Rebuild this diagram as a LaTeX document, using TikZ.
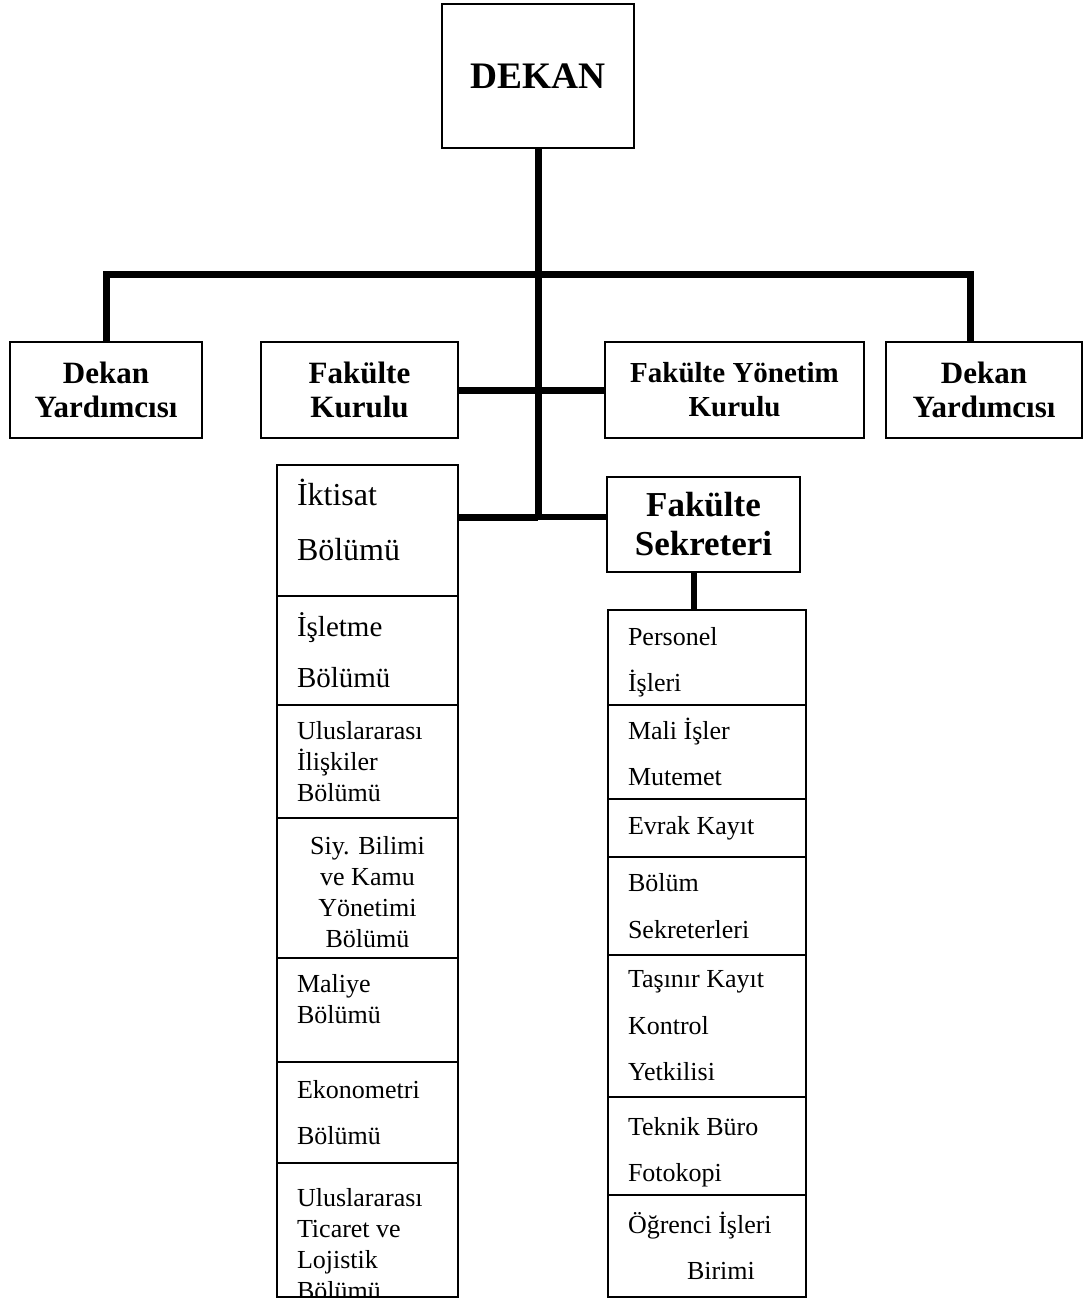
\documentclass[tikz,border=0pt]{standalone}
\usepackage{fontspec}
\setmainfont{Liberation Serif}
\usepackage{tikz}

\newcommand{\cellspaced}{\fontsize{13}{23.2}\selectfont}
\newcommand{\cellpacked}{\fontsize{13}{15.5}\selectfont}

\begin{document}
\begin{tikzpicture}[x=0.5pt,y=-0.5pt,
  box/.style={draw,rectangle,line width=1.1pt,align=center,inner sep=0pt},
  cell/.style={draw,rectangle,line width=1.1pt,align=flush left,inner xsep=10pt,inner ysep=0pt,font=\cellspaced},
  lcell/.style={cell,text width=70.5pt},
  rcell/.style={cell,text width=79pt},
  link/.style={line width=3.5pt}]
\useasboundingbox (0,0) rectangle (1087,1299);

% top level
\node[box,minimum width=96pt,minimum height=72pt,font=\fontsize{18.7}{22}\selectfont\bfseries](dekan) at (538,76)
	{DEKAN};
\node[box,minimum width=96pt,minimum height=48pt,font=\fontsize{15.5}{17}\selectfont\bfseries](dy1) at (106,390)
	{Dekan \\ Yardımcısı};
\node[box,minimum width=98.5pt,minimum height=48pt,font=\fontsize{15.5}{17}\selectfont\bfseries](fk) at (359.5,390)
	{Fakülte \\ Kurulu};
\node[box,minimum width=129.5pt,minimum height=48pt,font=\fontsize{14.5}{17}\selectfont\bfseries](fyk) at (734.5,390)
	{Fakülte Yönetim \\ Kurulu};
\node[box,minimum width=98pt,minimum height=48pt,font=\fontsize{15.5}{17}\selectfont\bfseries](dy2) at (984,390)
	{Dekan \\ Yardımcısı};
\node[box,minimum width=96.5pt,minimum height=47.5pt,font=\fontsize{17.5}{19.5}\selectfont\bfseries](sek) at (703.5,524.5)
	{Fakülte \\ Sekreteri};

% departments
\node[lcell,minimum height=65.5pt,text depth=38pt,font=\fontsize{16}{27.5}\selectfont](iktisat) at (367.5,530.5)
	{İktisat \\ Bölümü};
\node[lcell,minimum height=54.5pt,font=\fontsize{14.5}{25.5}\selectfont](isletme) at (367.5,650.5)
	{İşletme \\ Bölümü};
\node[lcell,minimum height=56.5pt,font=\fontsize{13}{15.3}\selectfont](uii) at (367.5,761.5)
	{Uluslararası \\ İlişkiler \\ Bölümü};
\node[lcell,minimum height=70pt,align=flush center,text height=13pt,font=\cellpacked](siy) at (367.5,888)
	{Siy. Bilimi \\ ve Kamu \\ Yönetimi \\ Bölümü};
\node[lcell,minimum height=52pt,text depth=26.5pt,font=\cellpacked](maliye) at (367.5,1010)
	{Maliye \\ Bölümü};
\node[lcell,minimum height=50.5pt,font=\fontsize{13}{23}\selectfont](ekono) at (367.5,1112.5)
	{Ekonometri \\ Bölümü};
\node[lcell,minimum height=67pt,
	path picture={\node[align=flush left,text width=70.5pt,inner sep=0pt,font=\fontsize{13}{15.5}\selectfont]
	at ([yshift=-7pt]path picture bounding box.center)
	{Uluslararası \\ Ticaret ve \\ Lojistik \\ Bölümü};}](uticaret) at (367.5,1230)
	{};

% secretariat units
\node[rcell,minimum height=47.5pt,text height=14pt](personel) at (707,657.5)
	{Personel \\ İşleri};
\node[rcell,minimum height=47pt](mali) at (707,752)
	{Mali İşler \\ Mutemet};
\node[rcell,minimum height=29pt](evrak) at (707,828)
	{Evrak Kayıt};
\node[rcell,minimum height=49pt](bolumsek) at (707,906)
	{Bölüm \\ Sekreterleri};
\node[rcell,minimum height=71pt](tasinir) at (707,1026)
	{Taşınır Kayıt \\ Kontrol \\ Yetkilisi};
\node[rcell,minimum height=49pt,text height=15pt](teknik) at (707,1146)
	{Teknik Büro \\ Fotokopi};
\node[rcell,minimum height=51pt](ogrenci) at (707,1246)
	{Öğrenci İşleri \\ \hspace*{29.5pt}Birimi};

\coordinate (hub) at (538,517);
\coordinate (lt) at (106,275);
\coordinate (rt) at (970,275);
\coordinate (sd) at (694,590);

\draw[link] (dekan.south) -- (hub);
\draw[link] (lt |- dy1.north) -- (lt) -- (rt) -- (rt |- dy2.north);
\draw[link] (fk.east) -- (fyk.west);
\draw[link] (iktisat.east |- hub) -- (hub);
\draw[line width=2.8pt] (hub) -- (sek.west |- hub);
\draw[line width=3pt] (sd |- sek.south) -- (sd |- personel.north);
\end{tikzpicture}
\end{document}
